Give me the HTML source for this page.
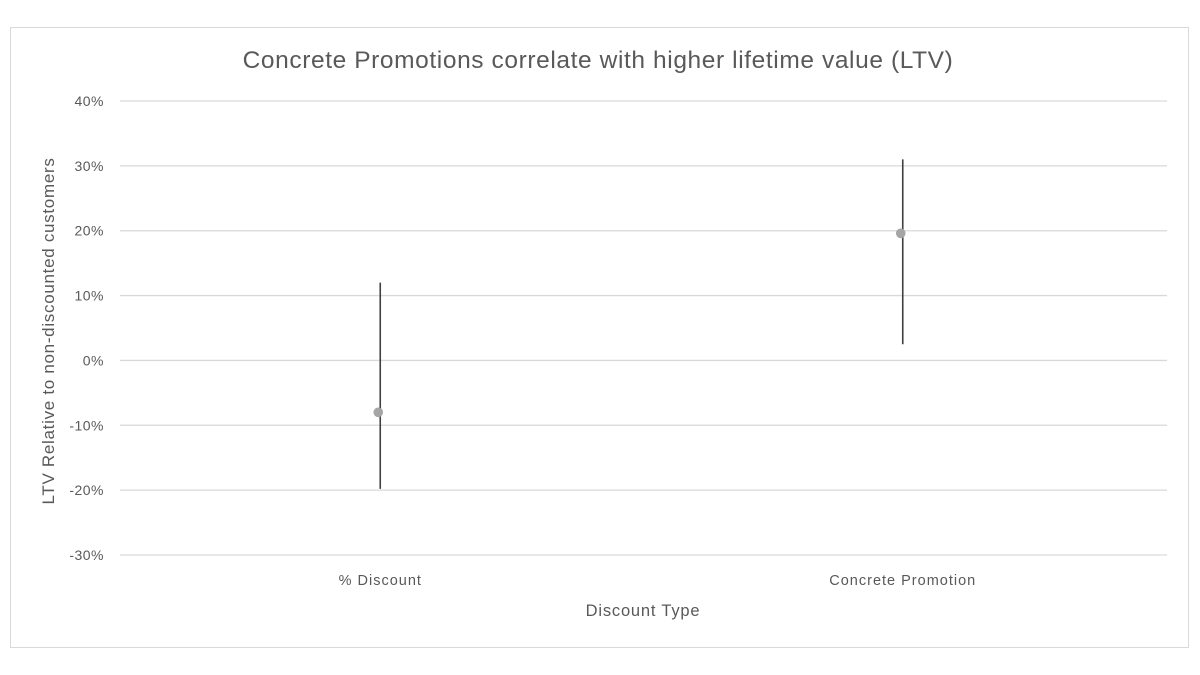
<!DOCTYPE html>
<html><head><meta charset="utf-8"><style>
body{margin:0;background:#fff;}
svg{display:block;font-family:"Liberation Sans",sans-serif;}
</style></head><body>
<svg id="chart" width="1200" height="675">
<rect x="10.5" y="27.5" width="1178" height="620" fill="#fff" stroke="#d9d9d9"/>
<text x="598" y="68" text-anchor="middle" font-size="24.5" letter-spacing="0.6" fill="#595959">Concrete Promotions correlate with higher lifetime value (LTV)</text>
<g id="grid"></g>
<g id="marks"></g>
<text x="643" y="616" text-anchor="middle" font-size="16.5" letter-spacing="0.8" fill="#595959">Discount Type</text>
<text transform="translate(54,331) rotate(-90)" text-anchor="middle" font-size="17" letter-spacing="0.7" fill="#595959">LTV Relative to non-discounted customers</text>
</svg>
<script>
const categories = ["% Discount", "Concrete Promotion"];
const means = [-8.0, 19.6];
const upper = [12.0, 31.0];
const lower = [-19.8, 2.5];
const ticks = [40, 30, 20, 10, 0, -10, -20, -30];
const NS = "http://www.w3.org/2000/svg";
const yTop = 101, yBot = 555, vMax = 40, vMin = -30;
const xL = 118, xR = 1163;
function y(v){ return yTop + (vMax - v) / (vMax - vMin) * (yBot - yTop); }
function x(i){ return xL + (i + 0.5) * (xR - xL) / categories.length; }
function mk(tag, attrs, parent){ const e = document.createElementNS(NS, tag); for (const k in attrs) e.setAttribute(k, attrs[k]); parent.appendChild(e); return e; }
const grid = document.getElementById('grid');
const marks = document.getElementById('marks');
ticks.forEach(t => {
  const l = mk('line', {x1: 120, x2: 1167, y1: y(t), y2: y(t), stroke: '#d9d9d9', 'stroke-width': 1.3}, grid);
  
  
  const tx = mk('text', {x: 104, y: y(t) + 5, 'text-anchor': 'end', 'font-size': 14, 'letter-spacing': 0.5, fill: '#595959'}, grid);
  tx.textContent = t + '%';
  
  
});
categories.forEach((c, i) => {
  const tx = mk('text', {x: x(i) + 1, y: 585, 'text-anchor': 'middle', 'font-size': 14.5, 'letter-spacing': 1, fill: '#595959'}, grid);
  tx.textContent = c;
  
  
  const eb = mk('line', {x1: x(i) + 1, x2: x(i) + 1, y1: y(upper[i]), y2: y(lower[i]), stroke: '#404040', 'stroke-width': 1.6}, marks);
  
  
  const pt = mk('circle', {cx: x(i) - 1, cy: y(means[i]), r: 4.8, fill: '#a5a5a5'}, marks);
  
  
});
</script>
</body></html>
